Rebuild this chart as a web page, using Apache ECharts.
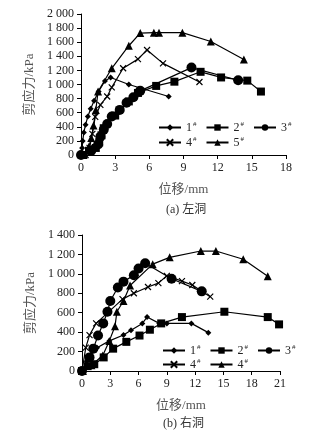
<!DOCTYPE html>
<html>
<head>
<meta charset="utf-8">
<script src="https://cdn.jsdelivr.net/npm/echarts@6/dist/echarts.min.js"></script>
<style>
  html, body { margin: 0; padding: 0; background: #fff; }
  #main { width: 326px; height: 438px; }
</style>
</head>
<body>
<div id="main"></div>
<script>
// 左洞 (a): [位移 mm, 剪应力 kPa]
var left1 = [[0,0],[0.1,100],[0.15,200],[0.25,320],[0.4,430],[0.6,545],[0.85,655],[1.15,770],[1.55,900],[2.1,1050],[2.6,1100],[4.2,1000],[7.7,830]];
var left2 = [[0.2,0],[0.7,60],[1.3,100],[1.6,180],[1.8,280],[2.0,380],[3.0,560],[4.2,760],[5.0,880],[6.6,980],[8.2,1040],[10.5,1180],[12.3,1100],[14.6,1055],[15.8,900]];
var left3 = [[0,0],[0.9,60],[1.5,150],[1.7,260],[2.0,360],[2.3,440],[2.7,545],[3.4,640],[4.0,740],[4.6,820],[5.2,910],[9.7,1240],[13.8,1060]];
var left4 = [[0.4,0],[0.75,100],[1.0,300],[1.25,540],[1.7,710],[2.3,830],[2.7,960],[3.7,1230],[5.0,1360],[5.8,1490],[7.2,1300],[10.4,1035]];
var left5 = [[0.2,0],[0.7,120],[0.9,240],[1.1,420],[1.3,640],[1.5,900],[2.7,1230],[4.2,1550],[5.2,1730],[6.4,1735],[6.85,1735],[8.9,1735],[11.4,1610],[14.3,1355]];

// 右洞 (b)
var right1 = [[0,0],[0.5,100],[0.9,160],[1.6,240],[2.9,310],[4.4,370],[5.2,420],[6.4,490],[6.9,555],[8.2,490],[9.0,490],[11.6,490],[13.4,395]];
var right2 = [[0,0],[0.6,50],[1.3,70],[2.3,140],[3.3,230],[4.7,300],[6.1,365],[7.2,425],[8.4,490],[10.6,555],[15.1,610],[19.7,555],[20.9,480]];
var right3 = [[0,0],[0.8,140],[1.2,230],[1.7,365],[2.25,490],[2.7,610],[3.0,720],[3.8,860],[4.4,920],[5.5,985],[6.0,1055],[6.7,1110],[9.5,950],[12.7,820]];
var right4 = [[0,0],[0.4,240],[0.8,370],[1.5,490],[4.3,740],[5.5,800],[7.0,865],[8.1,905],[9.0,980],[10.6,925],[11.7,885],[13.6,765]];
var right5 = [[0.1,0],[1.0,60],[2.2,160],[2.9,310],[3.5,460],[3.7,610],[4.4,720],[5.1,880],[7.5,1100],[9.3,1170],[12.6,1235],[14.2,1235],[17.1,1150],[19.7,975]];

var legendNames = { a1: '1', a2: '2', a3: '3', a4: '4', a5: '5', b1: '1', b2: '2', b3: '3', b4: '4', b5: '4' };

var FONT = '"Liberation Serif", "Noto Sans CJK SC", serif';
var xMark = 'path://M0,0L10,10M10,0L0,10';

function thousands(v) {
    if (v >= 1000) {
        return Math.floor(v / 1000) + ' ' + String(v % 1000).padStart(3, '0');
    }
    return String(v);
}

function xAxisCfg(idx, max) {
    return {
        type: 'value', gridIndex: idx, min: 0, max: max, interval: 3,
        name: '位移/mm', nameLocation: 'middle', nameGap: 28,
        nameTextStyle: { fontFamily: FONT, fontSize: 13, color: '#555' },
        axisLine: { lineStyle: { color: '#000', width: 1 } },
        axisTick: { show: true, length: 4, lineStyle: { color: '#000' } },
        axisLabel: { fontFamily: FONT, fontSize: 12, color: '#222', margin: 7 },
        splitLine: { show: false }
    };
}

function yAxisCfg(idx, max) {
    return {
        type: 'value', gridIndex: idx, min: 0, max: max, interval: 200,
        name: '剪应力/kPa', nameLocation: 'middle', nameGap: 39,
        nameTextStyle: { fontFamily: FONT, fontSize: 13, color: '#555' },
        axisLine: { show: true, lineStyle: { color: '#000', width: 1 } },
        axisTick: { show: true, length: 4, lineStyle: { color: '#000' } },
        axisLabel: { fontFamily: FONT, fontSize: 12, color: '#222', margin: 7, formatter: thousands },
        splitLine: { show: false }
    };
}

function line(name, idx, data, symbol, size) {
    return {
        name: name, type: 'line', xAxisIndex: idx, yAxisIndex: idx,
        data: data, symbol: symbol, symbolSize: size,
        lineStyle: { color: '#000', width: 1.2 },
        itemStyle: { color: '#000', borderColor: '#000', borderWidth: symbol === xMark ? 1.2 : 0 },
        animation: false
    };
}

function legendRow(names, left, top) {
    return {
        data: names, left: left, top: top, orient: 'horizontal',
        itemWidth: 22, itemHeight: 8, itemGap: 9,
        formatter: function(n) { return '{n|' + legendNames[n] + '}{s|#}'; },
        textStyle: {
            fontFamily: FONT, color: '#222',
            rich: {
                n: { fontFamily: FONT, fontSize: 12, color: '#222' },
                s: { fontFamily: FONT, fontSize: 7, color: '#222', verticalAlign: 'top', padding: [0, 0, 6, 1] }
            }
        },
        selectedMode: false
    };
}

var chart = echarts.init(document.getElementById('main'));
chart.setOption({
    backgroundColor: '#fff',
    animation: false,
    grid: [
        { left: 81, top: 14, width: 205, height: 141 },
        { left: 82, top: 235, width: 198, height: 136 }
    ],
    xAxis: [xAxisCfg(0, 18), xAxisCfg(1, 21)],
    yAxis: [yAxisCfg(0, 2000), yAxisCfg(1, 1400)],
    legend: [
        legendRow(['a1', 'a2', 'a3'], 153, 116),
        legendRow(['a4', 'a5'], 153, 131),
        legendRow(['b1', 'b2', 'b3'], 157, 339),
        legendRow(['b4', 'b5'], 157, 353)
    ],
    graphic: [
        { type: 'text', left: 166, top: 204, style: { text: '(a) 左洞', font: '12px ' + FONT, fill: '#333' } },
        { type: 'text', left: 163, top: 418, style: { text: '(b) 右洞', font: '12px ' + FONT, fill: '#333' } }
    ],
    series: [
        line('a1', 0, left1, 'diamond', 6),
        line('a2', 0, left2, 'rect', 8),
        line('a3', 0, left3, 'circle', 10),
        line('a4', 0, left4, xMark, 6),
        line('a5', 0, left5, 'triangle', 8),
        line('b1', 1, right1, 'diamond', 6),
        line('b2', 1, right2, 'rect', 8),
        line('b3', 1, right3, 'circle', 10),
        line('b4', 1, right4, xMark, 6),
        line('b5', 1, right5, 'triangle', 8)
    ]
});
</script>
</body>
</html>
